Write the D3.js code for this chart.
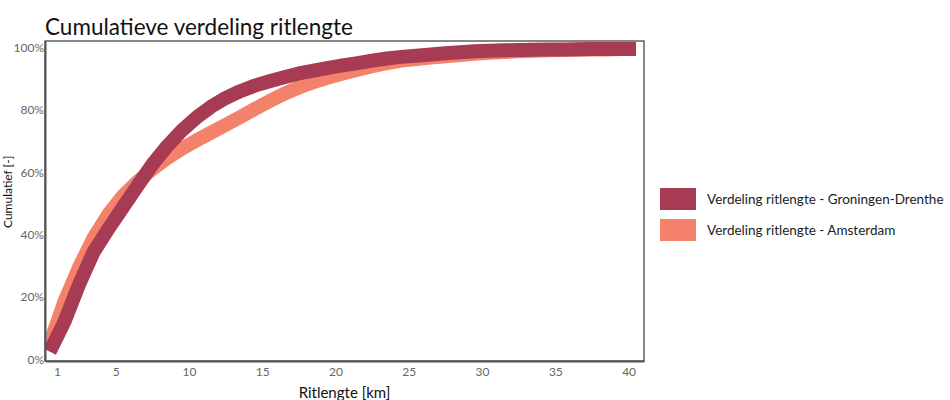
<!DOCTYPE html>
<html>
<head>
<meta charset="utf-8">
<script src="https://cdn.jsdelivr.net/npm/d3@7"></script>
<style>
  html, body { margin: 0; padding: 0; background: #fff; }
  svg { display: block; font-family: Lato, "Open Sans", sans-serif; }
</style>
</head>
<body>
<svg id="chart" width="950" height="400"></svg>
<script>
const title = "Cumulatieve verdeling ritlengte";
const xTitle = "Ritlengte [km]";
const yTitle = "Cumulatief [-]";
const seriesNames = ["Verdeling ritlengte - Groningen-Drenthe", "Verdeling ritlengte - Amsterdam"];
const seriesColors = ["#a73b54", "#f4816a"];
const xTicks = [1, 5, 10, 15, 20, 25, 30, 35, 40];
const yTicks = [0, 0.2, 0.4, 0.6, 0.8, 1.0];
const km = [0.5, 1.5, 2.5, 3.5, 4.5, 5.5, 6.5, 7.5, 8.5, 9.5, 10.5, 11.5, 12.5, 13.5, 14.5, 15.5, 16.5, 17.5, 18.5, 19.5, 20.5,
            21.5, 22.5, 23.5, 24.5, 25.5, 26.5, 27.5, 28.5, 29.5, 30.5, 31.5, 32.5, 33.5, 34.5, 35.5, 36.5, 37.5, 38.5, 39.5, 40.5];
const groningen = [2.5, 12, 24, 34.5, 41.8, 48.8, 55.7, 62.5, 68.3, 73.3, 77.5, 81, 83.8, 86, 87.8, 89.2, 90.5, 91.7, 92.6, 93.5, 94.3,
                   95.0, 95.8, 96.5, 97.0, 97.4, 97.8, 98.2, 98.5, 98.8, 99.0, 99.1, 99.2, 99.3, 99.35, 99.4, 99.45, 99.5, 99.5, 99.5, 99.5];
const amsterdam = [5, 18.5, 29.5, 39, 46.5, 52.5, 57, 61, 64.5, 67.5, 70.2, 72.7, 75.2, 77.7, 80.3, 82.8, 85.2, 87.2, 88.9, 90.4, 91.7,
                   92.9, 94.0, 95.0, 95.8, 96.3, 96.8, 97.2, 97.6, 98.0, 98.3, 98.6, 98.8, 99.0, 99.1, 99.2, 99.3, 99.4, 99.4, 99.5, 99.5];

const svg = d3.select("#chart");
const pL = 45, pR = 644, pT = 41, pB = 361;

const x = d3.scaleLinear().domain([0.18, 41.05]).range([pL, pR]);
const y = d3.scaleLinear().domain([-0.005, 1.021]).range([pB, pT]);

svg.append("defs").append("clipPath").attr("id", "plotclip")
  .append("rect").attr("x", pL).attr("y", pT).attr("width", pR - pL).attr("height", pB - pT);

// title
svg.append("text").attr("x", pL).attr("y", 35)
  .attr("font-size", 22.5).attr("fill", "#111").text(title);

// frame
svg.append("rect").attr("x", pL).attr("y", pT).attr("width", pR - pL).attr("height", pB - pT)
  .attr("fill", "none").attr("stroke", "#111").attr("stroke-width", 1);

// lines
const line = d3.line().x(d => x(d[0])).y(d => y(d[1] / 100));
const data = [amsterdam, groningen];
const colors = [seriesColors[1], seriesColors[0]];
const g = svg.append("g").attr("clip-path", "url(#plotclip)");
data.forEach((vals, i) => {
  g.append("path")
    .datum(km.map((k, j) => [k, vals[j]]))
    .attr("fill", "none")
    .attr("stroke", colors[i])
    .attr("stroke-width", 14)
    .attr("stroke-linejoin", "round")
    .attr("stroke-linecap", "butt")
    .attr("d", line);
});

// axes
const xAxis = d3.axisBottom(x).tickValues(xTicks).tickSize(0).tickPadding(6);
const yAxis = d3.axisLeft(y).tickValues(yTicks).tickSize(0).tickPadding(1).tickFormat(d3.format(".0%"));
const gx = svg.append("g").attr("transform", `translate(0,${pB})`).call(xAxis);
const gy = svg.append("g").attr("transform", `translate(${pL},0)`).call(yAxis);
[gx, gy].forEach(a => {
  a.select(".domain").attr("stroke", "#555").attr("stroke-width", 2);
  a.selectAll("text").attr("fill", "#666").attr("font-size", 12).attr("font-family", "Lato, sans-serif");
});

// axis titles
svg.append("text").attr("x", (pL + pR) / 2).attr("y", 398)
  .attr("text-anchor", "middle").attr("font-size", 15).attr("fill", "#111").text(xTitle);
svg.append("text").attr("transform", "translate(12,228) rotate(-90)")
  .attr("text-anchor", "start").attr("font-size", 12).attr("fill", "#111").text(yTitle);

// legend
const legend = svg.append("g");
seriesNames.forEach((name, i) => {
  const yy = 188 + i * 31;
  legend.append("rect").attr("x", 660).attr("y", yy).attr("width", 36).attr("height", 22).attr("fill", seriesColors[i]);
  legend.append("text").attr("x", 707).attr("y", yy + 11).attr("dy", "0.35em")
    .attr("font-size", 13.5).attr("fill", "#222").text(name);
});
</script>
</body>
</html>
